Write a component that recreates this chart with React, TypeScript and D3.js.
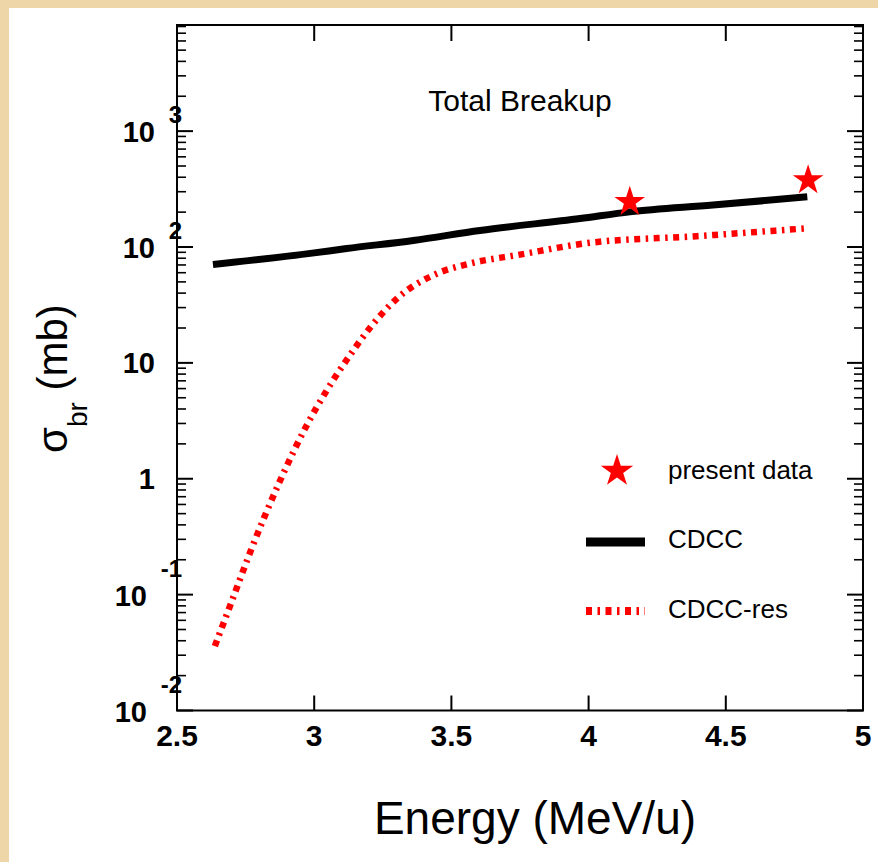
import React from 'react';
import * as d3 from 'd3';

// CDCC total breakup (black thick line)
const energyCdcc = [2.631, 3.0, 3.118, 3.361, 3.604, 3.969, 4.15, 4.453, 4.797];
const sigmaCdcc = [70.5, 89, 97, 114, 139, 176, 201, 230, 271];

// CDCC-res (red dash-dot line)
const energyRes = [2.638, 2.70, 2.766, 2.878, 2.973, 3.046, 3.123, 3.21, 3.306, 3.433, 3.568, 3.75, 3.994, 4.393, 4.796];
const sigmaRes = [0.036, 0.088, 0.23, 0.99, 2.9, 5.8, 11, 21, 36.7, 57, 72, 86, 108, 124, 145];

// present data (red stars)
const energyData = [4.15, 4.80];
const sigmaData = [245, 377];

const xTicks = [2.5, 3, 3.5, 4, 4.5, 5];
const xTickLabels = ['2.5', '3', '3.5', '4', '4.5', '5'];
const yTicks = [0.01, 0.1, 1, 10, 100, 1000];
const yTickBase = ['10', '10', '1', '10', '10', '10'];
const yTickExp = ['-2', '-1', '', '', '2', '3'];

const legendLabels = ['present data', 'CDCC', 'CDCC-res'];

const FONT = '"Liberation Sans", Arial, Helvetica, sans-serif';

export default function App() {
  const W = 878, H = 862;
  const left = 177, right = 863, top = 25, bottom = 710.5;

  const x = d3.scaleLinear().domain([2.5, 5]).range([left, right]);
  const y = d3.scaleLog().domain([0.01, 8240]).range([bottom, top]);

  const line = d3.line<[number, number]>()
    .x(d => x(d[0]))
    .y(d => y(d[1]))
    .curve(d3.curveMonotoneX);

  const cdccPath = line(energyCdcc.map((e, i) => [e, sigmaCdcc[i]]));
  const resPath = line(energyRes.map((e, i) => [e, sigmaRes[i]]));

  const starData = d3.symbol().type(d3.symbolStar).size(290)();
  const starLegend = d3.symbol().type(d3.symbolStar).size(325)();

  // minor log ticks
  const minor: number[] = [];
  yTicks.forEach(d => {
    for (let k = 2; k <= 9; k++) {
      const v = d * k;
      if (v <= 8240) minor.push(v);
    }
  });

  const resDash = '6,5.5,2.5,5.5';

  return (
    <div style={{ position: 'fixed', left: 0, top: 0 }}>
      <svg width={W} height={H} style={{ display: 'block' }}>
        <rect x={0} y={0} width={W} height={H} fill="#eed6a9" />
        <rect x={9} y={8} width={W - 9} height={H - 8} fill="#ffffff" />

        {/* frame */}
        <rect x={left} y={top} width={right - left} height={bottom - top}
          fill="none" stroke="#000" strokeWidth={2} />

        {/* x ticks (bottom and top, inward) */}
        {xTicks.map((t, i) => (
          <g key={'xt' + i}>
            <line x1={x(t)} x2={x(t)} y1={bottom} y2={bottom - 15} stroke="#000" strokeWidth={2} />
            <line x1={x(t)} x2={x(t)} y1={top} y2={top + 16} stroke="#000" strokeWidth={2} />
            <text x={x(t)} y={746} textAnchor="middle" fontFamily={FONT} fontWeight="bold"
              fontSize={30} fill="#000">{xTickLabels[i]}</text>
          </g>
        ))}

        {/* y ticks */}
        {yTicks.map((t, i) => (
          <g key={'yt' + i}>
            <line x1={left} x2={left + 16} y1={y(t)} y2={y(t)} stroke="#000" strokeWidth={2} />
            <line x1={right} x2={right - 16} y1={y(t)} y2={y(t)} stroke="#000" strokeWidth={2} />
          </g>
        ))}
        {minor.map((t, i) => (
          <g key={'ym' + i}>
            <line x1={left} x2={left + 9} y1={y(t)} y2={y(t)} stroke="#000" strokeWidth={1.6} />
            <line x1={right} x2={right - 9} y1={y(t)} y2={y(t)} stroke="#000" strokeWidth={1.6} />
          </g>
        ))}

        {/* y tick labels */}
        {yTicks.map((t, i) => {
          const exp = yTickExp[i];
          const yy = y(t);
          if (!exp) {
            return (
              <text key={'yl' + i} x={155} y={yy + 10} textAnchor="end" fontFamily={FONT}
                fontWeight="bold" fontSize={29} fill="#000">{yTickBase[i]}</text>
            );
          }
          const neg = exp.startsWith('-');
          const expW = neg ? 21 : 13;
          return (
            <g key={'yl' + i}>
              <text x={182 - expW - 14} y={yy + 11} textAnchor="end" fontFamily={FONT}
                fontWeight="bold" fontSize={29} fill="#000">{yTickBase[i]}</text>
              <text x={182} y={yy + (neg ? -18 : -8)} textAnchor="end" fontFamily={FONT}
                fontWeight="bold" fontSize={24} fill="#000">{exp}</text>
            </g>
          );
        })}

        {/* curves */}
        <path d={resPath || ''} fill="none" stroke="#ff0000" strokeWidth={6.5}
          strokeDasharray={resDash} />
        <path d={cdccPath || ''} fill="none" stroke="#000" strokeWidth={7} />

        {/* data stars */}
        {energyData.map((e, i) => (
          <path key={'st' + i} d={starData || ''} fill="#ff0000"
            transform={`translate(${x(e)},${y(sigmaData[i])})`} />
        ))}

        {/* title */}
        <text x={520} y={111} textAnchor="middle" fontFamily={FONT} fontSize={30} fill="#000">
          Total Breakup
        </text>

        {/* legend */}
        <path d={starLegend || ''} fill="#ff0000" transform="translate(617,471)" />
        <text x={668} y={479} fontFamily={FONT} fontSize={26} fill="#000">{legendLabels[0]}</text>
        <line x1={586} x2={645} y1={542} y2={542} stroke="#000" strokeWidth={9} />
        <text x={668} y={548} fontFamily={FONT} fontSize={26} fill="#000">{legendLabels[1]}</text>
        <line x1={586} x2={645} y1={611} y2={611} stroke="#ff0000" strokeWidth={8}
          strokeDasharray={resDash} />
        <text x={668} y={618} fontFamily={FONT} fontSize={26} fill="#000">{legendLabels[2]}</text>

        {/* axis titles */}
        <text x={535} y={834} textAnchor="middle" fontFamily={FONT} fontSize={46} fill="#000">
          Energy (MeV/u)
        </text>
        <text transform="translate(67,453) rotate(-90)" fontFamily={FONT} fontSize={42} fill="#000">
          σ<tspan fontSize={28} dy={20}>br</tspan><tspan dy={-20}> (mb)</tspan>
        </text>
      </svg>
    </div>
  );
}
